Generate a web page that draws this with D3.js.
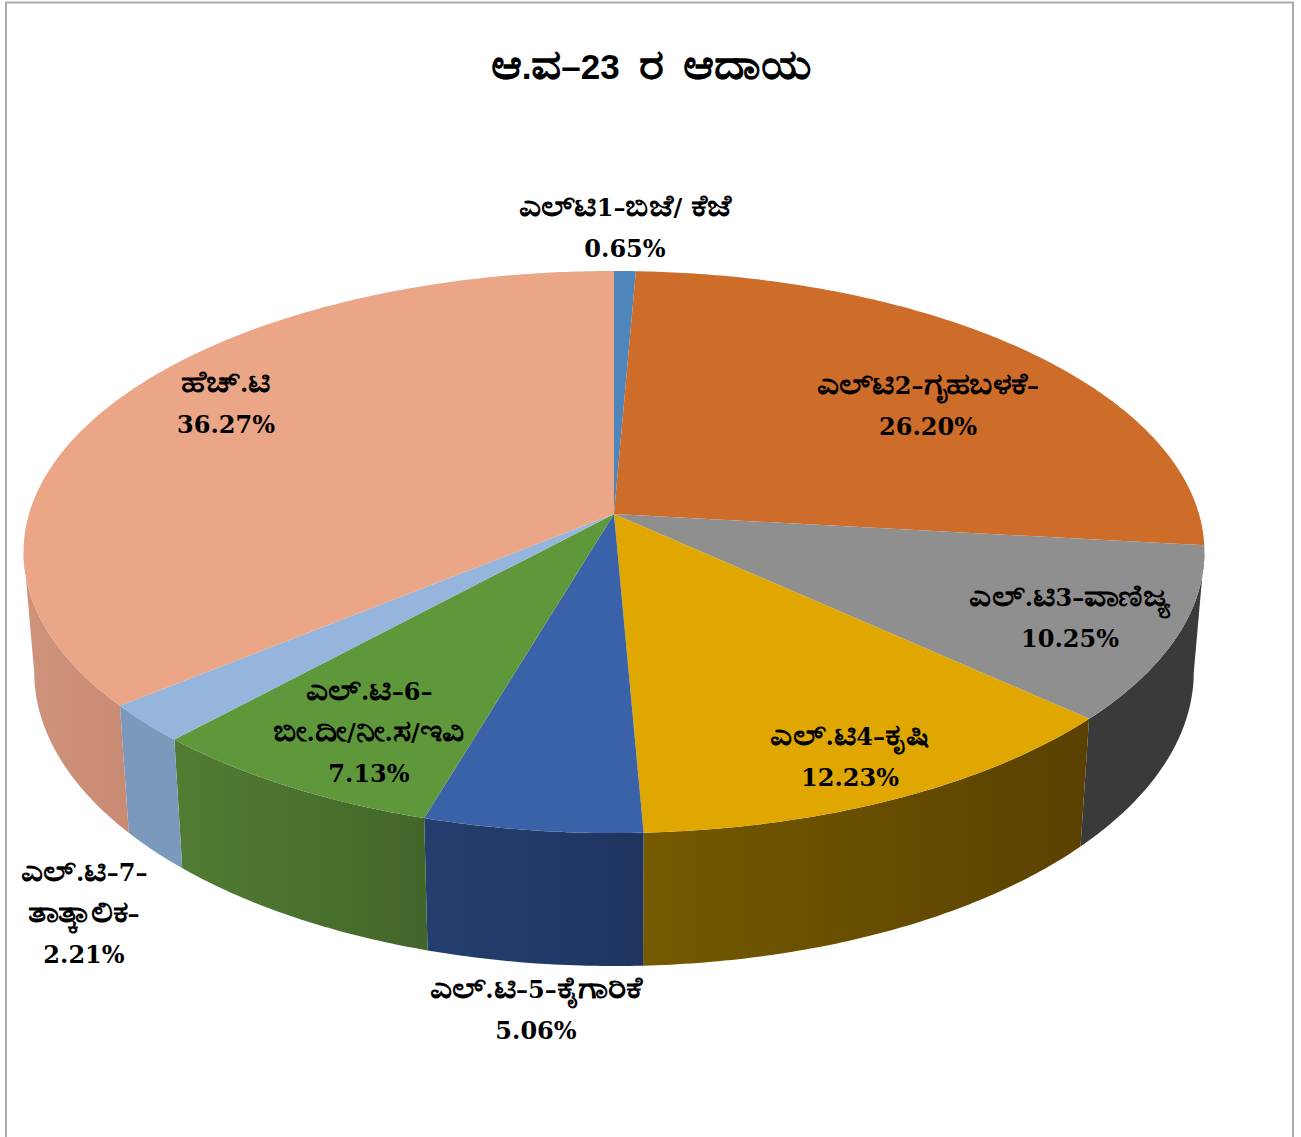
<!DOCTYPE html>
<html>
<head>
<meta charset="utf-8">
<style>
html, body { margin: 0; padding: 0; background: #fff; }
svg { display: block; }
text { white-space: pre; }
</style>
<script src="https://cdn.jsdelivr.net/npm/d3@7"></script>
</head>
<body>
<div id="chart"></div>
<script>
const title = "ಆ.ವ–23 ರ ಆದಾಯ"
const categories = [
    ["ಎಲ್‌ಟಿ1–ಬಿಜೆ/ ಕೆಜೆ"],
    ["ಎಲ್‌ಟಿ2–ಗೃಹಬಳಕೆ–"],
    ["ಎಲ್.ಟಿ3–ವಾಣಿಜ್ಯ"],
    ["ಎಲ್.ಟಿ4–ಕೃಷಿ"],
    ["ಎಲ್.ಟಿ–5–ಕೈಗಾರಿಕೆ"],
    ["ಎಲ್.ಟಿ–6–", "ಬೀ.ದೀ/ನೀ.ಸ/ಇವಿ"],
    ["ಎಲ್.ಟಿ–7–", "ತಾತ್ಕಾಲಿಕ–"],
    ["ಹೆಚ್.ಟಿ"]
]
const values = [0.65, 26.20, 10.25, 12.23, 5.06, 7.13, 2.21, 36.27]
const topColors = ["#4e86bb", "#ce6c2a", "#8f8f8f", "#dfa700", "#3a62a8", "#5f973b", "#95b5dc", "#eba587"]
const wallLeft = ["#3a6590", "#9a5120", "#3a3a3a", "#755a00", "#243f6e", "#527c33", "#7b99bd", "#cf927a"]
const wallRight = ["#3a6590", "#9a5120", "#3a3a3a", "#5a4100", "#1f3560", "#42662a", "#7b99bd", "#c88a72"]

const width = 1301
const height = 1137
const hub = {x: 614, y: 514}
const persp = {a: 585, b: 275.9, k: -0.1352, squash: 1.04}
const wallFrom = 98.1 * Math.PI / 180
const wallTo = 261.9 * Math.PI / 180

// where each label sits: centre x and baseline of its first line
const labelAt = [[625, 216], [928, 394], [1070, 606], [850, 745], [536, 998], [369, 700], [84, 881], [226, 392]]

const svg = d3.select("#chart")
    .append("svg")
    .attr("width", width)
    .attr("height", height)
    .attr("viewBox", [0, 0, width, height])

const layer_bg = svg.append("g")
const layer_walls = svg.append("g")
const layer_top = svg.append("g")
const layer_labels = svg.append("g")
const defs = svg.append("defs")

layer_bg.append("rect")
    .attr("width", width)
    .attr("height", height)
    .attr("fill", "#fff")
layer_bg.append("path")
    .attr("d", d3.line()([[6, height], [6, 2.5], [1293, 2.5], [1293, height]]))
    .attr("fill", "none")
    .attr("stroke", "#acacac")
    .attr("stroke-width", 2)

const arcs = d3.pie().sort(null).value(d => d)(values)

// circle -> tilted view, angle clockwise from twelve o'clock
const topPoint = function (t) {
    const th = Math.atan2(persp.squash * Math.sin(t), Math.cos(t))
    const u = Math.sin(th), v = -Math.cos(th)
    const den = 1 + persp.k * v
    return [persp.a * u / den, persp.b * v / den]
}
const bottomPoint = function (t) {
    const p = topPoint(t)
    return [p[0] * 0.982, p[1] * 1.047 + 118]
}
const place = p => [hub.x + p[0], hub.y + p[1]]
const line = d3.line()

const samples = function (a, b) {
    const n = Math.max(2, Math.ceil((b - a) / 0.01))
    return d3.range(n + 1).map(i => a + (b - a) * i / n)
}

// side walls, only the part that faces the viewer
arcs.forEach(function (d, i) {
    const a = Math.max(d.startAngle, wallFrom)
    const b = Math.min(d.endAngle, wallTo)
    if (b <= a) return
    const ts = samples(a, b)
    const pts = ts.map(t => place(topPoint(t)))
        .concat(ts.slice().reverse().map(t => place(bottomPoint(t))))
    const extent = d3.extent(pts, p => p[0])
    const grad = defs.append("linearGradient")
        .attr("id", "wall" + i)
        .attr("gradientUnits", "userSpaceOnUse")
        .attr("x1", extent[0]).attr("x2", extent[1])
        .attr("y1", 0).attr("y2", 0)
    grad.append("stop").attr("offset", 0).attr("stop-color", wallLeft[i])
    grad.append("stop").attr("offset", 1).attr("stop-color", wallRight[i])
    layer_walls.append("path")
        .attr("d", line(pts) + "Z")
        .attr("fill", `url(#wall${i})`)
})

// top face
layer_top.selectAll("path")
    .data(arcs)
    .enter().append("path")
    .attr("fill", (d, i) => topColors[i])
    .attr("d", d => line([place([0, 0])].concat(samples(d.startAngle, d.endAngle).map(t => place(topPoint(t))))) + "Z")

// the installed Kannada face is narrower than the one in the chart,
// so each Kannada run is sized and widened on its own, then the row is centred
const runs = s => s.match(/[\u0C80-\u0CFF\u200C\u200D]+|[^\u0C80-\u0CFF\u200C\u200D]+/g)
const isKannada = s => /[\u0C80-\u0CFF]/.test(s)

const writeLine = function (parent, s, cx, y, font, latinSize, kannadaSize, stretch) {
    const row = parent.append("g")
    let x = 0
    runs(s).forEach(function (r) {
        const kn = isKannada(r)
        const sx = kn ? stretch : 1
        const t = row.append("text")
            .attr("font-family", font)
            .attr("font-weight", "bold")
            .attr("font-size", kn ? kannadaSize : latinSize)
            .attr("fill", "#000")
            .text(r)
        t.attr("transform", `translate(${x},0) scale(${sx},1)`)
        x += t.node().getComputedTextLength() * sx
    })
    row.attr("transform", `translate(${cx - x / 2},${y})`)
}

writeLine(layer_bg, title.replace(/ /g, "  "), 651, 79, "'Liberation Sans', sans-serif", 35, 41, 1.15)

categories.forEach(function (lines, i) {
    lines.concat([d3.format(".2f")(values[i]) + "%"]).forEach(function (s, j) {
        writeLine(layer_labels, s, labelAt[i][0], labelAt[i][1] + j * 41, "'DejaVu Serif', serif", 24, 30, 1.15)
    })
})
</script>
</body>
</html>
